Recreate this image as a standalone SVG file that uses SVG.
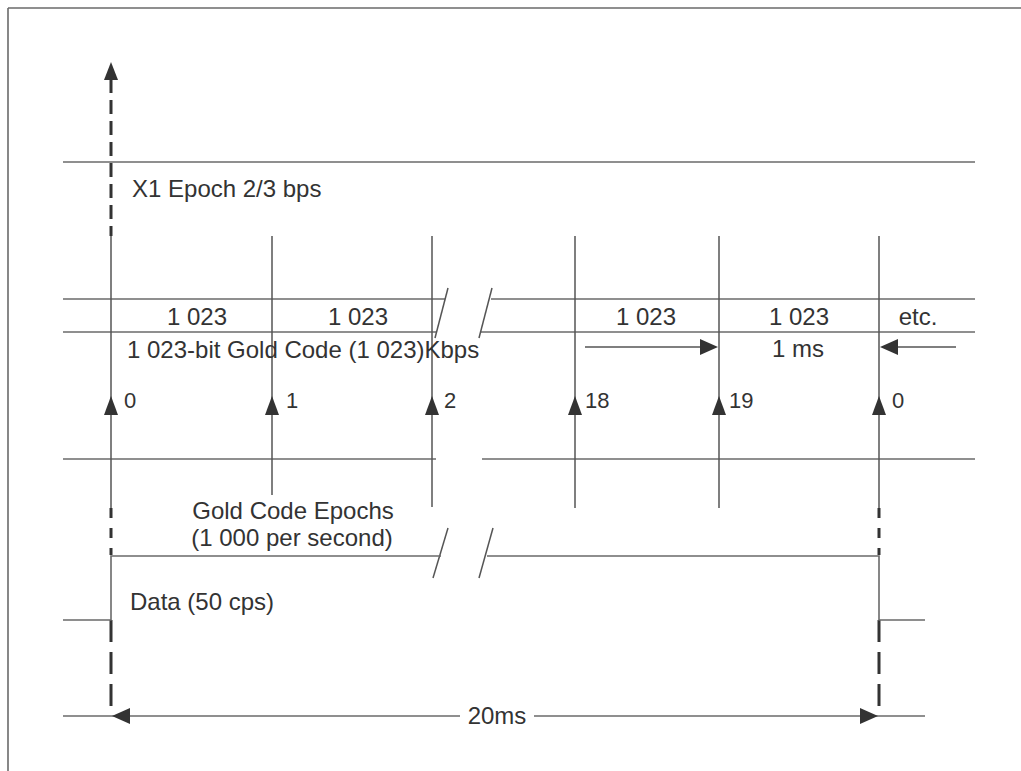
<svg xmlns="http://www.w3.org/2000/svg" width="1021" height="771" viewBox="0 0 1021 771">
<style>
.h{stroke:#6a6a6a;stroke-width:1.6;fill:none}
.v{stroke:#555;stroke-width:1.5;fill:none}
.d{stroke:#333;stroke-width:3;fill:none}
.ah{fill:#333;stroke:none}
text{font-family:"Liberation Sans",Arial,sans-serif;fill:#333;font-size:24px}
.lab{font-size:22px}
</style>
<rect width="1021" height="771" fill="#fff"/>
<g id="frame">
<line class="h" x1="8" y1="8" x2="1021" y2="8" stroke-width="2"/>
<line class="h" x1="8" y1="8" x2="8" y2="771" stroke-width="2"/>
</g>
<g id="connectors">
<!-- horizontal rails -->
<line class="h" x1="63" y1="162" x2="975" y2="162"/>
<line class="h" x1="63" y1="299" x2="445" y2="299"/>
<line class="h" x1="491" y1="299" x2="975" y2="299"/>
<line class="h" x1="63" y1="332" x2="436" y2="332"/>
<line class="h" x1="481" y1="332" x2="975" y2="332"/>
<line class="h" x1="63" y1="459" x2="436" y2="459"/>
<line class="h" x1="482" y1="459" x2="975" y2="459"/>
<!-- break slashes -->
<line class="v" x1="448" y1="288" x2="435" y2="338"/>
<line class="v" x1="492" y1="288" x2="479" y2="338"/>
<line class="v" x1="448" y1="528" x2="433" y2="578"/>
<line class="v" x1="493" y1="528" x2="479" y2="578"/>
<!-- columns -->
<line class="v" x1="111" y1="236" x2="111" y2="508"/>
<line class="v" x1="272" y1="236" x2="272" y2="495"/>
<line class="v" x1="432" y1="236" x2="432" y2="507"/>
<line class="v" x1="575" y1="236" x2="575" y2="508"/>
<line class="v" x1="719" y1="236" x2="719" y2="508"/>
<line class="v" x1="879" y1="236" x2="879" y2="508"/>
<!-- epoch arrowheads -->
<path class="ah" d="M111 396 L118 415 L104 415 Z"/>
<path class="ah" d="M272 396 L279 415 L265 415 Z"/>
<path class="ah" d="M432 396 L439 415 L425 415 Z"/>
<path class="ah" d="M575 396 L582 415 L568 415 Z"/>
<path class="ah" d="M719 396 L726 415 L712 415 Z"/>
<path class="ah" d="M879 396 L886 415 L872 415 Z"/>
<!-- dashed markers -->
<line class="d" x1="111" y1="79" x2="111" y2="236" stroke-dasharray="14 7"/>
<path class="ah" d="M111 62 L118 80 L104 80 Z"/>
<line class="d" x1="111" y1="508" x2="111" y2="555" stroke-dasharray="10 10"/>
<line class="d" x1="879" y1="508" x2="879" y2="555" stroke-dasharray="10 10"/>
<line class="d" x1="111" y1="620" x2="111" y2="710" stroke-dasharray="22 10"/>
<line class="d" x1="879" y1="620" x2="879" y2="710" stroke-dasharray="22 10"/>
<!-- data waveform -->
<polyline class="h" points="63,620 111,620 111,556 441,556"/>
<polyline class="h" points="487,556 879,556 879,620 925,620"/>
<!-- 1 ms arrows -->
<line class="v" x1="585" y1="347" x2="702" y2="347"/>
<path class="ah" d="M718 347 L700 339 L700 355 Z"/>
<line class="v" x1="895" y1="347" x2="956" y2="347"/>
<path class="ah" d="M880 347 L898 339 L898 355 Z"/>
<!-- 20 ms dimension -->
<line class="h" x1="63" y1="716" x2="460" y2="716"/>
<line class="h" x1="534" y1="716" x2="925" y2="716"/>
<path class="ah" d="M112 716 L130 708 L130 724 Z"/>
<path class="ah" d="M878 716 L860 708 L860 724 Z"/>
</g>
<g id="labels">
<text x="132" y="197">X1 Epoch 2/3 bps</text>
<text x="197" y="325" text-anchor="middle">1 023</text>
<text x="358" y="325" text-anchor="middle">1 023</text>
<text x="646" y="325" text-anchor="middle">1 023</text>
<text x="799" y="325" text-anchor="middle">1 023</text>
<text x="918" y="325" text-anchor="middle">etc.</text>
<text x="127" y="358">1 023-bit Gold Code (1 023)Kbps</text>
<text x="798" y="357" text-anchor="middle">1 ms</text>
<text class="lab" x="124" y="408">0</text>
<text class="lab" x="286" y="408">1</text>
<text class="lab" x="444" y="408">2</text>
<text class="lab" x="585" y="408">18</text>
<text class="lab" x="729" y="408">19</text>
<text class="lab" x="892" y="408">0</text>
<text x="293" y="519" text-anchor="middle">Gold Code Epochs</text>
<text x="292" y="546" text-anchor="middle">(1 000 per second)</text>
<text x="130" y="610">Data (50 cps)</text>
<text x="497" y="724" text-anchor="middle">20ms</text>
</g>
</svg>
